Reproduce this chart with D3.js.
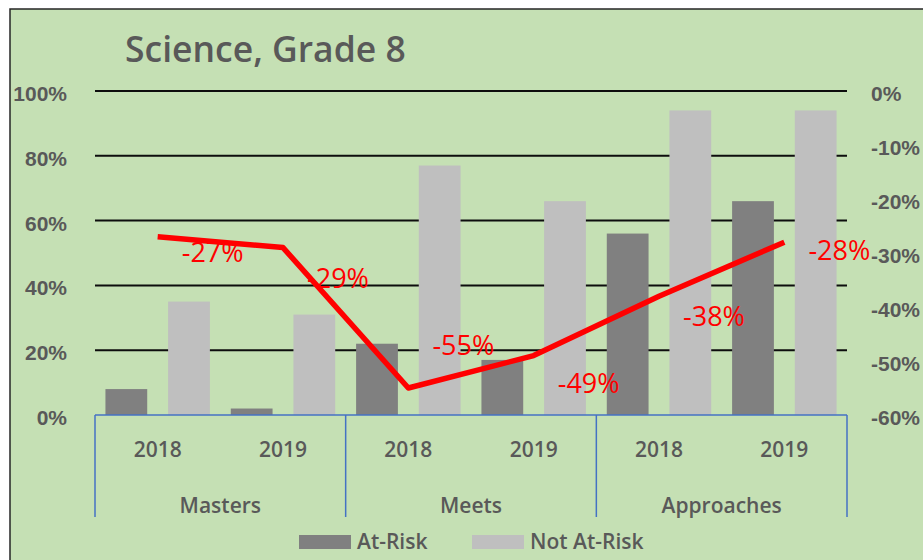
<!DOCTYPE html>
<html><head><meta charset="utf-8"><title>Science, Grade 8</title>
<style>
    body { margin: 0; background: #ffffff; }
    svg { display: block; font-family: 'Open Sans', 'Noto Sans', sans-serif; }
    .axis text { fill: #595959; font-size: 21px; font-weight: 600; }
</style>
</head>
<body>
<svg id="chart" width="923" height="560"></svg>
<script src="https://cdn.jsdelivr.net/npm/d3@7/dist/d3.min.js"></script>
<script>
    // values
    const groups = ["Masters", "Meets", "Approaches"];
    const years = ["2018", "2019"];
    const series = ["At-Risk", "Not At-Risk"];
    const atRisk = [8, 2, 22, 17, 56, 66];
    const notAtRisk = [35, 31, 77, 66, 94, 94];
    const gapPct = [-27, -29, -55, -49, -38, -28];
    const leftTicks = [0, 20, 40, 60, 80, 100];
    const rightTicks = [0, -10, -20, -30, -40, -50, -60];

    // label nudges (excel had them dragged around a bit)
    const labelDy = [16, 31, -42, 28, 20, 8];

    const colors = { "At-Risk": "#808080", "Not At-Risk": "#bfbfbf" };
    const textColor = "#595959";

    const plot = { left: 95, right: 847, top: 91, bottom: 415 };

    const svg = d3.select("#chart");

    svg.append("rect")
        .attr("x", 10).attr("y", 9)
        .attr("width", 930).attr("height", 560)
        .attr("fill", "#c5e0b4")
        .attr("stroke", "#262626")
        .attr("stroke-width", 1.5);

    svg.append("text")
        .attr("x", 125).attr("y", 62)
        .attr("fill", textColor)
        .attr("font-size", 35.5)
        .attr("font-weight", 600)
        .text("Science, Grade 8");

    const keys = [];
    groups.forEach(g => years.forEach(y => keys.push(g + "|" + y)));

    const rows = keys.map((k, i) => ({
        key: k, group: k.split("|")[0], year: k.split("|")[1],
        "At-Risk": atRisk[i], "Not At-Risk": notAtRisk[i], gap: gapPct[i]
    }));

    const x = d3.scaleBand().domain(keys).range([plot.left, plot.right]);
    const xSub = d3.scaleBand().domain(series).range([0, x.bandwidth()])
        .paddingInner(1 / 3).paddingOuter(1 / 6);
    const yLeft = d3.scaleLinear().domain([0, 100]).range([plot.bottom, plot.top]);
    const yRight = d3.scaleLinear().domain([-60, 0]).range([plot.bottom, plot.top]);

    // gridlines
    svg.append("g")
        .selectAll("line")
        .data(leftTicks.filter(t => t > 0))
        .join("line")
        .attr("x1", plot.left).attr("x2", plot.right)
        .attr("y1", d => yLeft(d)).attr("y2", d => yLeft(d))
        .attr("stroke", "#0d0d0d")
        .attr("stroke-width", 2);

    // bars
    svg.append("g")
        .selectAll("g")
        .data(rows)
        .join("g")
        .attr("transform", d => `translate(${x(d.key)},0)`)
        .selectAll("rect")
        .data(d => series.map(s => ({ s, v: d[s] })))
        .join("rect")
        .attr("x", d => xSub(d.s))
        .attr("width", xSub.bandwidth())
        .attr("y", d => yLeft(d.v))
        .attr("height", d => yLeft(0) - yLeft(d.v))
        .attr("fill", d => colors[d.s]);

    // left axis
    const leftAxis = svg.append("g")
        .attr("class", "axis")
        .attr("transform", `translate(${plot.left},0)`)
        .call(d3.axisLeft(yLeft).tickValues(leftTicks).tickSize(0).tickPadding(28)
            .tickFormat(d => d + "%"));
    leftAxis.select(".domain").remove();
    leftAxis.selectAll("text").attr("font-size", 21).attr("dy", "0.45em");

    // right axis
    const rightAxis = svg.append("g")
        .attr("class", "axis")
        .attr("transform", `translate(${plot.right},0)`)
        .call(d3.axisRight(yRight).tickValues(rightTicks).tickSize(0).tickPadding(24)
            .tickFormat(d => d + "%"));
    rightAxis.select(".domain").remove();
    rightAxis.selectAll("text").attr("font-size", 21).attr("dy", "0.45em");

    // category axis (two levels)
    const catColor = "#4472c4";
    const catBottom = 517;
    svg.append("line")
        .attr("x1", plot.left).attr("x2", plot.right)
        .attr("y1", plot.bottom).attr("y2", plot.bottom)
        .attr("stroke", catColor).attr("stroke-width", 1.5);

    const groupEdges = groups.map(g => x(g + "|" + years[0]));
    groupEdges.push(plot.right);
    svg.append("g")
        .selectAll("line")
        .data(groupEdges)
        .join("line")
        .attr("x1", d => d).attr("x2", d => d)
        .attr("y1", plot.bottom).attr("y2", catBottom)
        .attr("stroke", catColor).attr("stroke-width", 1.5);

    svg.append("g")
        .selectAll("text")
        .data(rows)
        .join("text")
        .attr("x", d => x(d.key) + x.bandwidth() / 2)
        .attr("y", 450)
        .attr("dy", "0.35em")
        .attr("text-anchor", "middle")
        .attr("fill", textColor)
        .attr("font-size", 21)
        .attr("font-weight", 600)
        .text(d => d.year);

    svg.append("g")
        .selectAll("text")
        .data(groups)
        .join("text")
        .attr("x", g => x(g + "|" + years[0]) + x.bandwidth())
        .attr("y", 506)
        .attr("dy", "0.35em")
        .attr("text-anchor", "middle")
        .attr("fill", textColor)
        .attr("font-size", 21)
        .attr("font-weight", 600)
        .text(g => g);

    // gap line
    const line = d3.line()
        .x(d => x(d.key) + x.bandwidth() / 2)
        .y(d => yRight(d.gap));

    svg.append("path")
        .datum(rows)
        .attr("d", line)
        .attr("fill", "none")
        .attr("stroke", "#ff0000")
        .attr("stroke-width", 5.5)
        .attr("stroke-linejoin", "round");

    svg.append("g")
        .selectAll("text")
        .data(rows)
        .join("text")
        .attr("x", d => x(d.key) + x.bandwidth() / 2 + 55)
        .attr("y", (d, i) => yRight(d.gap) + labelDy[i])
        .attr("dy", "0.35em")
        .attr("text-anchor", "middle")
        .attr("fill", "#ff0000")
        .attr("font-size", 27)
        .text(d => d.gap + "%");

    // legend
    const legendX = [299, 472];
    const legend = svg.append("g")
        .selectAll("g")
        .data(series)
        .join("g")
        .attr("transform", (d, i) => `translate(${legendX[i]},535)`);
    legend.append("rect")
        .attr("width", 52).attr("height", 14)
        .attr("fill", d => colors[d]);
    legend.append("text")
        .attr("x", 58).attr("y", 7)
        .attr("dy", "0.35em")
        .attr("fill", textColor)
        .attr("font-size", 21)
        .attr("font-weight", 600)
        .text(d => d);
</script>
</body>
</html>
